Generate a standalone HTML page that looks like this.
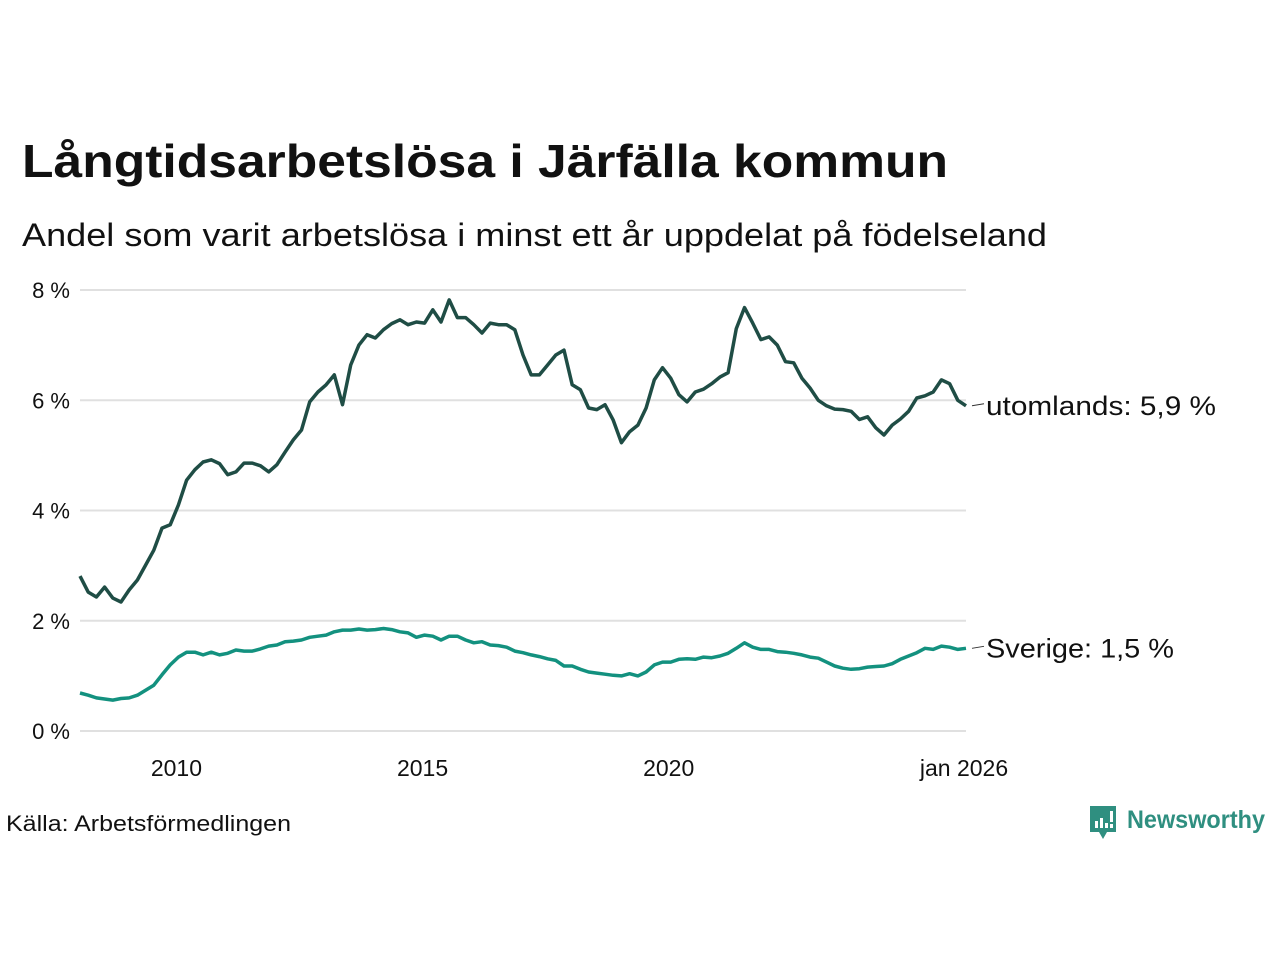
<!DOCTYPE html>
<html><head><meta charset="utf-8">
<style>
html,body{margin:0;padding:0;background:#fff;width:1280px;height:960px;overflow:hidden;font-family:"Liberation Sans",sans-serif;}
svg{display:block}
</style></head>
<body>
<svg id="chart" width="1280" height="960">
<text x="22" y="177" font-size="46" font-weight="bold" fill="#111" textLength="926" lengthAdjust="spacingAndGlyphs">Långtidsarbetslösa i Järfälla kommun</text>
<text x="22" y="246" font-size="32" fill="#111" textLength="1025" lengthAdjust="spacingAndGlyphs">Andel som varit arbetslösa i minst ett år uppdelat på födelseland</text>
<g id="grid"></g>
<g id="lines"></g>
<text x="6" y="831" font-size="22" fill="#111" textLength="285" lengthAdjust="spacingAndGlyphs">Källa: Arbetsförmedlingen</text>
<g>
<path d="M1090 806 h26 v26 h-9 l-4 7 l-4 -7 h-9 z" fill="#2f8f80"/>
<rect x="1095" y="821" width="3" height="7" fill="#fff"/><rect x="1100" y="818" width="3" height="10" fill="#fff"/><rect x="1105" y="823" width="3" height="5" fill="#fff"/><rect x="1110" y="811" width="3" height="11" fill="#fff"/><rect x="1110" y="824" width="3" height="4" fill="#fff"/>
<text x="1127" y="828" font-size="25" font-weight="bold" fill="#2f8f80" textLength="138" lengthAdjust="spacingAndGlyphs">Newsworthy</text>
</g>
</svg>
<script>
const yTicks = [0, 2, 4, 6, 8];
const xTickMonths = [24, 84, 144, 216];
const xTickLabels = ["2010", "2015", "2020", "jan 2026"];
const utomlands = [2.81,2.52,2.43,2.61,2.41,2.34,2.56,2.74,3.01,3.28,3.68,3.74,4.1,4.55,4.74,4.88,4.92,4.85,4.65,4.7,4.86,4.86,4.81,4.7,4.83,5.06,5.28,5.46,5.97,6.15,6.28,6.46,5.92,6.64,7.0,7.19,7.13,7.28,7.39,7.46,7.37,7.42,7.4,7.64,7.42,7.82,7.5,7.5,7.37,7.22,7.4,7.37,7.37,7.28,6.82,6.46,6.46,6.64,6.82,6.91,6.28,6.19,5.86,5.83,5.92,5.64,5.23,5.43,5.55,5.86,6.37,6.59,6.4,6.1,5.97,6.15,6.2,6.3,6.42,6.5,7.3,7.68,7.4,7.1,7.15,7.0,6.7,6.68,6.4,6.22,6.0,5.9,5.84,5.83,5.8,5.65,5.7,5.5,5.37,5.55,5.66,5.8,6.04,6.08,6.15,6.37,6.3,6.0,5.9];
const sverige = [0.69,0.65,0.6,0.58,0.56,0.59,0.6,0.65,0.74,0.83,1.02,1.2,1.34,1.43,1.43,1.38,1.43,1.38,1.41,1.47,1.45,1.45,1.49,1.54,1.56,1.62,1.63,1.65,1.7,1.72,1.74,1.8,1.83,1.83,1.85,1.83,1.84,1.86,1.84,1.8,1.78,1.7,1.74,1.72,1.65,1.72,1.72,1.65,1.6,1.62,1.56,1.55,1.52,1.45,1.42,1.38,1.35,1.31,1.28,1.18,1.18,1.12,1.07,1.05,1.03,1.01,1.0,1.04,1.0,1.07,1.2,1.25,1.25,1.3,1.31,1.3,1.34,1.33,1.36,1.41,1.5,1.6,1.52,1.48,1.48,1.44,1.43,1.41,1.38,1.34,1.32,1.25,1.18,1.14,1.12,1.13,1.16,1.17,1.18,1.22,1.3,1.36,1.42,1.5,1.48,1.54,1.52,1.48,1.5];
const labels = ["utomlands: 5,9 %", "Sverige: 1,5 %"];

const NS = "http://www.w3.org/2000/svg";
const X0 = 80, X1 = 966, Y0 = 731, Y8 = 290;
function xScale(m){ return X0 + (X1 - X0) * m / 216; }
function yScale(v){ return Y0 - (Y0 - Y8) * v / 8; }
const grid = document.getElementById('grid');
const lines = document.getElementById('lines');
function mk(tag, attrs, parent){ const e = document.createElementNS(NS, tag); for (const k in attrs) e.setAttribute(k, attrs[k]); parent.appendChild(e); return e; }

yTicks.forEach(t => {
  const l = mk('line', {x1:X0, x2:X1, y1:yScale(t), y2:yScale(t), stroke:'#e0e0e0', 'stroke-width':2}, grid);
  
  
  const tx = mk('text', {x:70, y:yScale(t)+8, 'font-size':22, 'text-anchor':'end', fill:'#111'}, grid);
  tx.textContent = t + ' %';
  
  
});
xTickMonths.forEach((m, i) => {
  const tx = mk('text', {x:xScale(m) - 2, y:776, 'font-size':23, 'text-anchor':'middle', fill:'#111'}, grid);
  tx.textContent = xTickLabels[i];
  
  
});
function drawSeries(data, color, name, label, len){
  const pts = data.map((v, i) => xScale(i * 2).toFixed(1) + ',' + yScale(v).toFixed(1)).join(' ');
  const p = mk('polyline', {points:pts, fill:'none', stroke:color, 'stroke-width':3.5, 'stroke-linejoin':'round'}, lines);
  
  
  const last = data[data.length - 1];
  const yl = yScale(last);
  const d = mk('line', {x1:972, x2:984, y1:yl, y2:yl - 2, stroke:'#333', 'stroke-width':1}, lines);
  
  
  const t = mk('text', {x:986, y:yl + 9, 'font-size':27, fill:'#111', textLength:len, lengthAdjust:'spacingAndGlyphs'}, lines);
  t.textContent = label;
  
  
}
drawSeries(sverige, '#13917f', 'sverige', labels[1], 188);
drawSeries(utomlands, '#1f4d45', 'utomlands', labels[0], 230);
</script>
</body></html>
